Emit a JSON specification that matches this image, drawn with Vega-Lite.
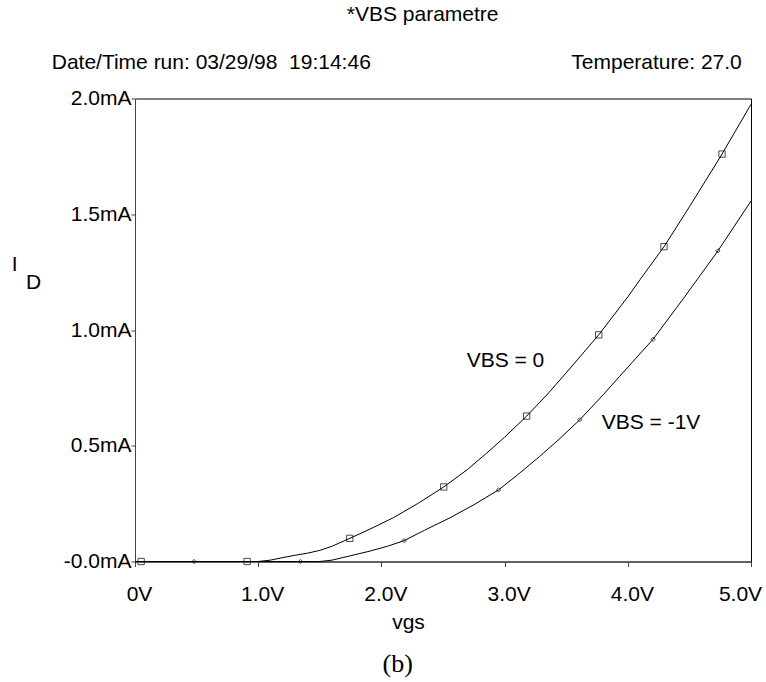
{
  "$schema": "https://vega.github.io/schema/vega-lite/v6.json",
  "width": 616,
  "height": 463,
  "autosize": "none",
  "padding": {"left": 135, "top": 98.5, "right": 15, "bottom": 120.5},
  "background": "white",
  "config": {
    "view": {"stroke": "black", "strokeWidth": 1},
    "font": "Liberation Sans",
    "text": {"font": "Liberation Sans", "fontSize": 21, "color": "black"},
    "axis": {
      "grid": false,
      "domainColor": "#444",
      "tickColor": "#444",
      "labelColor": "black",
      "titleColor": "black",
      "labelFont": "Liberation Sans",
      "titleFont": "Liberation Sans",
      "labelFontSize": 21,
      "titleFontSize": 21,
      "titleFontWeight": "normal"
    }
  },
  "datasets": {
    "curves": [
      {"vgs": 0, "id": 0, "series": "VBS = 0"},
      {"vgs": 0.5, "id": 0, "series": "VBS = 0"},
      {"vgs": 1.0, "id": 0, "series": "VBS = 0"},
      {"vgs": 1.1, "id": 0.006, "series": "VBS = 0"},
      {"vgs": 1.2, "id": 0.017, "series": "VBS = 0"},
      {"vgs": 1.3, "id": 0.027, "series": "VBS = 0"},
      {"vgs": 1.4, "id": 0.036, "series": "VBS = 0"},
      {"vgs": 1.5, "id": 0.048, "series": "VBS = 0"},
      {"vgs": 1.6, "id": 0.066, "series": "VBS = 0"},
      {"vgs": 1.743, "id": 0.1, "series": "VBS = 0"},
      {"vgs": 1.9, "id": 0.138, "series": "VBS = 0"},
      {"vgs": 2.1, "id": 0.19, "series": "VBS = 0"},
      {"vgs": 2.3, "id": 0.252, "series": "VBS = 0"},
      {"vgs": 2.506, "id": 0.322, "series": "VBS = 0"},
      {"vgs": 2.7, "id": 0.398, "series": "VBS = 0"},
      {"vgs": 2.85, "id": 0.466, "series": "VBS = 0"},
      {"vgs": 3.0, "id": 0.537, "series": "VBS = 0"},
      {"vgs": 3.179, "id": 0.628, "series": "VBS = 0"},
      {"vgs": 3.35, "id": 0.724, "series": "VBS = 0"},
      {"vgs": 3.5, "id": 0.815, "series": "VBS = 0"},
      {"vgs": 3.764, "id": 0.979, "series": "VBS = 0"},
      {"vgs": 4.0, "id": 1.143, "series": "VBS = 0"},
      {"vgs": 4.1, "id": 1.218, "series": "VBS = 0"},
      {"vgs": 4.294, "id": 1.36, "series": "VBS = 0"},
      {"vgs": 4.5, "id": 1.532, "series": "VBS = 0"},
      {"vgs": 4.765, "id": 1.76, "series": "VBS = 0"},
      {"vgs": 5.0, "id": 1.975, "series": "VBS = 0"},
      {"vgs": 0, "id": 0, "series": "VBS = -1V"},
      {"vgs": 0.5, "id": 0, "series": "VBS = -1V"},
      {"vgs": 1.0, "id": 0, "series": "VBS = -1V"},
      {"vgs": 1.5, "id": 0, "series": "VBS = -1V"},
      {"vgs": 1.6, "id": 0.006, "series": "VBS = -1V"},
      {"vgs": 1.75, "id": 0.025, "series": "VBS = -1V"},
      {"vgs": 1.9, "id": 0.044, "series": "VBS = -1V"},
      {"vgs": 2.05, "id": 0.066, "series": "VBS = -1V"},
      {"vgs": 2.184, "id": 0.09, "series": "VBS = -1V"},
      {"vgs": 2.35, "id": 0.135, "series": "VBS = -1V"},
      {"vgs": 2.55, "id": 0.187, "series": "VBS = -1V"},
      {"vgs": 2.75, "id": 0.245, "series": "VBS = -1V"},
      {"vgs": 2.95, "id": 0.309, "series": "VBS = -1V"},
      {"vgs": 3.1, "id": 0.372, "series": "VBS = -1V"},
      {"vgs": 3.285, "id": 0.454, "series": "VBS = -1V"},
      {"vgs": 3.45, "id": 0.532, "series": "VBS = -1V"},
      {"vgs": 3.61, "id": 0.612, "series": "VBS = -1V"},
      {"vgs": 3.8, "id": 0.72, "series": "VBS = -1V"},
      {"vgs": 3.934, "id": 0.8, "series": "VBS = -1V"},
      {"vgs": 4.205, "id": 0.96, "series": "VBS = -1V"},
      {"vgs": 4.45, "id": 1.135, "series": "VBS = -1V"},
      {"vgs": 4.732, "id": 1.342, "series": "VBS = -1V"},
      {"vgs": 5.0, "id": 1.557, "series": "VBS = -1V"}
    ],
    "markers": [
      {"vgs": 0.05, "id": 0, "series": "VBS = 0"},
      {"vgs": 0.91, "id": 0, "series": "VBS = 0"},
      {"vgs": 1.743, "id": 0.1, "series": "VBS = 0"},
      {"vgs": 2.506, "id": 0.322, "series": "VBS = 0"},
      {"vgs": 3.179, "id": 0.628, "series": "VBS = 0"},
      {"vgs": 3.764, "id": 0.979, "series": "VBS = 0"},
      {"vgs": 4.294, "id": 1.36, "series": "VBS = 0"},
      {"vgs": 4.765, "id": 1.76, "series": "VBS = 0"},
      {"vgs": 0.479, "id": 0, "series": "VBS = -1V"},
      {"vgs": 1.343, "id": 0, "series": "VBS = -1V"},
      {"vgs": 2.184, "id": 0.09, "series": "VBS = -1V"},
      {"vgs": 2.95, "id": 0.309, "series": "VBS = -1V"},
      {"vgs": 3.61, "id": 0.612, "series": "VBS = -1V"},
      {"vgs": 4.205, "id": 0.96, "series": "VBS = -1V"},
      {"vgs": 4.732, "id": 1.342, "series": "VBS = -1V"}
    ],
    "labels": [
      {"text": "*VBS parametre", "vgs": 2.335, "id": 2.334, "align": "center"},
      {"text": "Date/Time run: 03/29/98\u00a0 19:14:46", "vgs": -0.676, "id": 2.127, "align": "left"},
      {"text": "Temperature: 27.0", "vgs": 4.925, "id": 2.127, "align": "right"},
      {"text": "VBS = 0", "vgs": 2.692, "id": 0.842, "align": "left"},
      {"text": "VBS = -1V", "vgs": 3.788, "id": 0.573, "align": "left"},
      {"text": "I", "vgs": -1.001, "id": 1.253, "align": "left"},
      {"text": "D", "vgs": -0.885, "id": 1.179, "align": "left"}
    ]
  },
  "layer": [
    {
      "data": {"name": "curves"},
      "mark": {"type": "line", "color": "black", "strokeWidth": 1},
      "encoding": {
        "x": {
          "field": "vgs", "type": "quantitative",
          "scale": {"domain": [0, 5], "nice": false, "zero": false},
          "axis": {
            "values": [0, 1, 2, 3, 4, 5],
            "labelExpr": "datum.value == 0 ? '0V' : format(datum.value, '.1f') + 'V'",
            "tickSize": 5,
            "labelPadding": 33.5,
            "labelBaseline": "alphabetic",
            "labelAlign": "center",
            "labelOffset": {"condition": {"test": "datum.value == 5", "value": -11}, "value": 4},
            "title": "vgs",
            "titleX": 273,
            "titleY": 66.5,
            "titleAlign": "center",
            "titleBaseline": "alphabetic"
          }
        },
        "y": {
          "field": "id", "type": "quantitative",
          "scale": {"domain": [0, 2], "nice": false, "zero": false},
          "axis": {
            "values": [0, 0.5, 1, 1.5, 2],
            "labelExpr": "datum.value == 0 ? '-0.0mA' : format(datum.value, '.1f') + 'mA'",
            "tickSize": 4,
            "labelPadding": 0,
            "labelBaseline": "middle",
            "title": null
          }
        },
        "detail": {"field": "series"}
      }
    },
    {
      "data": {"name": "markers"},
      "mark": {"type": "point", "filled": false, "color": "black", "strokeWidth": 1},
      "encoding": {
        "x": {"field": "vgs", "type": "quantitative", "scale": {"domain": [0, 5], "nice": false, "zero": false}},
        "y": {"field": "id", "type": "quantitative", "scale": {"domain": [0, 2], "nice": false, "zero": false}},
        "shape": {"field": "series", "type": "nominal", "scale": {"domain": ["VBS = 0", "VBS = -1V"], "range": ["square", "diamond"]}, "legend": null},
        "size": {"field": "series", "type": "nominal", "scale": {"domain": ["VBS = 0", "VBS = -1V"], "range": [40, 18]}, "legend": null}
      }
    },
    {
      "data": {"name": "labels"},
      "transform": [{"filter": "datum.align == 'left'"}],
      "mark": {"type": "text", "align": "left", "baseline": "alphabetic"},
      "encoding": {
        "x": {"field": "vgs", "type": "quantitative", "scale": {"domain": [0, 5], "nice": false, "zero": false}},
        "y": {"field": "id", "type": "quantitative", "scale": {"domain": [0, 2], "nice": false, "zero": false}},
        "text": {"field": "text"}
      }
    },
    {
      "data": {"name": "labels"},
      "transform": [{"filter": "datum.align == 'right'"}],
      "mark": {"type": "text", "align": "right", "baseline": "alphabetic"},
      "encoding": {
        "x": {"field": "vgs", "type": "quantitative", "scale": {"domain": [0, 5], "nice": false, "zero": false}},
        "y": {"field": "id", "type": "quantitative", "scale": {"domain": [0, 2], "nice": false, "zero": false}},
        "text": {"field": "text"}
      }
    },
    {
      "data": {"name": "labels"},
      "transform": [{"filter": "datum.align == 'center'"}],
      "mark": {"type": "text", "align": "center", "baseline": "alphabetic"},
      "encoding": {
        "x": {"field": "vgs", "type": "quantitative", "scale": {"domain": [0, 5], "nice": false, "zero": false}},
        "y": {"field": "id", "type": "quantitative", "scale": {"domain": [0, 2], "nice": false, "zero": false}},
        "text": {"field": "text"}
      }
    },
    {
      "data": {"values": [{"text": "(b)", "vgs": 2.132, "id": -0.478}]},
      "mark": {"type": "text", "align": "center", "baseline": "alphabetic", "font": "Liberation Serif", "fontSize": 26},
      "encoding": {
        "x": {"field": "vgs", "type": "quantitative", "scale": {"domain": [0, 5], "nice": false, "zero": false}},
        "y": {"field": "id", "type": "quantitative", "scale": {"domain": [0, 2], "nice": false, "zero": false}},
        "text": {"field": "text"}
      }
    }
  ]
}
